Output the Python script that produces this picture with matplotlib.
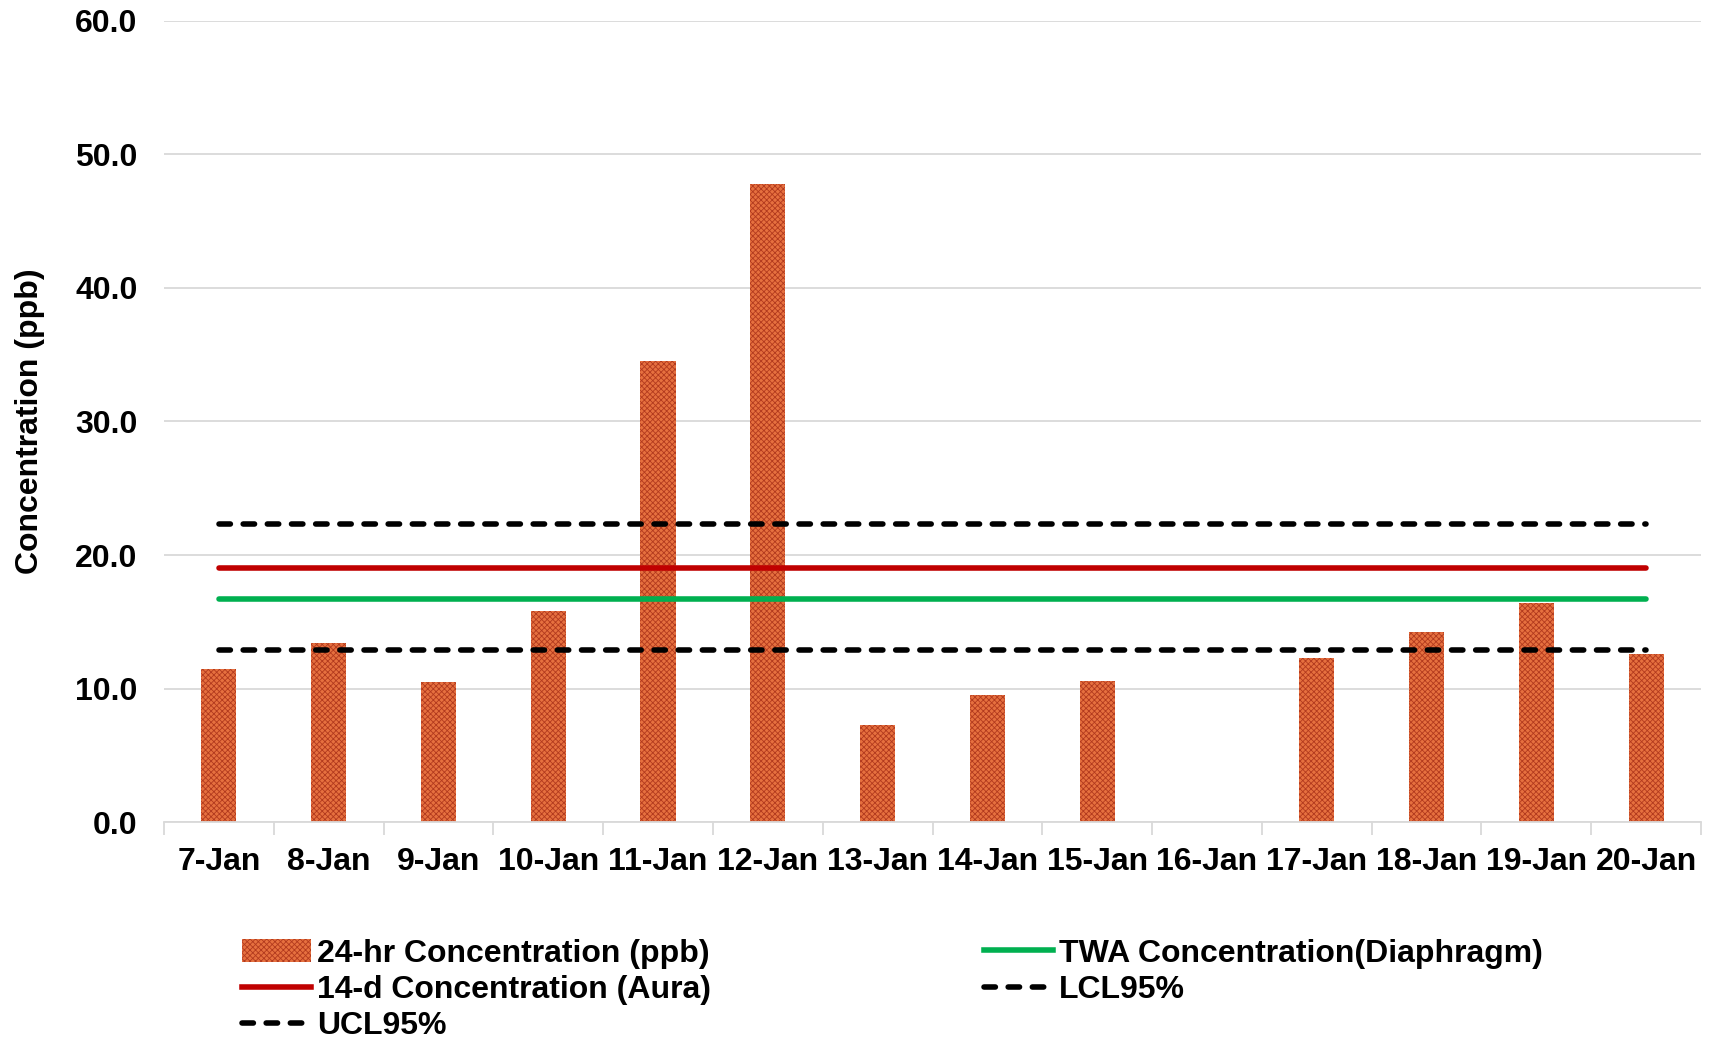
import numpy as np
import matplotlib
matplotlib.use("Agg")
import matplotlib.pyplot as plt
from matplotlib.lines import Line2D
from matplotlib.patches import Patch

plt.rcParams['font.family'] = ['Liberation Sans', 'DejaVu Sans']
plt.rcParams['font.weight'] = 'bold'
plt.rcParams['hatch.linewidth'] = 0.6
plt.rcParams['hatch.color'] = '#B23A1E'

# daily samples (16-Jan has no result)
days = ["7-Jan", "8-Jan", "9-Jan", "10-Jan", "11-Jan", "12-Jan", "13-Jan",
        "14-Jan", "15-Jan", "16-Jan", "17-Jan", "18-Jan", "19-Jan", "20-Jan"]
conc_24hr = [11.5, 13.4, 10.5, 15.8, 34.5, 47.8, 7.3, 9.5, 10.6, np.nan,
             12.3, 14.2, 16.4, 12.6]

# reference levels
conc_14d_aura = 19.05
twa_diaphragm = 16.7
ucl95 = 22.3
lcl95 = 12.9

x = np.arange(len(days))
span = [x[0], x[-1]]
fs = 23

fig = plt.figure(figsize=(17.12, 10.42), dpi=100)
ax = fig.add_axes([0.0958, 0.211, 0.8978, 0.769])

ax.bar(x, conc_24hr, width=0.32, color='#E6703F', hatch='xxxxxx',
       edgecolor='#B23A1E', linewidth=0, zorder=2)

dash_kw = dict(color='black', lw=4, dashes=(2.05, 2.3),
               dash_capstyle='round', zorder=3)
ax.plot(span, [ucl95, ucl95], **dash_kw)
ax.plot(span, [lcl95, lcl95], **dash_kw)
ax.plot(span, [conc_14d_aura] * 2, color='#C00000', lw=4,
        solid_capstyle='round', zorder=3)
ax.plot(span, [twa_diaphragm] * 2, color='#00B050', lw=4,
        solid_capstyle='round', zorder=3)

ax.set_xlim(-0.5, len(days) - 0.5)
ax.set_ylim(0, 60)
ax.set_yticks(np.arange(0, 61, 10))
ax.set_yticklabels([f"{v:.1f}" for v in np.arange(0, 61, 10)])
ax.set_xticks(x)
ax.set_xticklabels(days)
ax.set_xticks(np.arange(-0.5, len(days)), minor=True)

ax.tick_params(axis='y', length=0, pad=19, labelsize=fs)
ax.tick_params(axis='x', which='major', length=0, pad=18, labelsize=fs)
ax.tick_params(axis='x', which='minor', length=9, width=1.3, color='#D9D9D9')

ax.grid(axis='y', color='#D9D9D9', lw=1.3, zorder=0)
ax.set_axisbelow(True)
for side in ['top', 'right', 'left']:
    ax.spines[side].set_visible(False)
ax.spines['bottom'].set_color('#D9D9D9')
ax.spines['bottom'].set_linewidth(1.3)

ax.set_ylabel("Concentration (ppb)", fontsize=fs, fontweight='bold', labelpad=22)

handles = [
    Patch(facecolor='#E6703F', hatch='xxxxxx', edgecolor='#B23A1E', linewidth=0),
    Line2D([], [], color='#C00000', lw=4),
    Line2D([], [], color='black', lw=4, dashes=(2.05, 2.3), dash_capstyle='round'),
    Line2D([], [], color='#00B050', lw=4),
    Line2D([], [], color='black', lw=4, dashes=(2.05, 2.3), dash_capstyle='round'),
]
labels = ["24-hr Concentration (ppb)", "14-d Concentration (Aura)", "UCL95%",
          "TWA Concentration(Diaphragm)", "LCL95%"]
fig.legend(handles, labels, ncol=2, loc='lower left',
           bbox_to_anchor=(0.1245, -0.027), frameon=False, fontsize=fs,
           handlelength=2.15, handletextpad=0.2, columnspacing=8.55,
           labelspacing=0.2)

fig.savefig("out.png", dpi=100)
